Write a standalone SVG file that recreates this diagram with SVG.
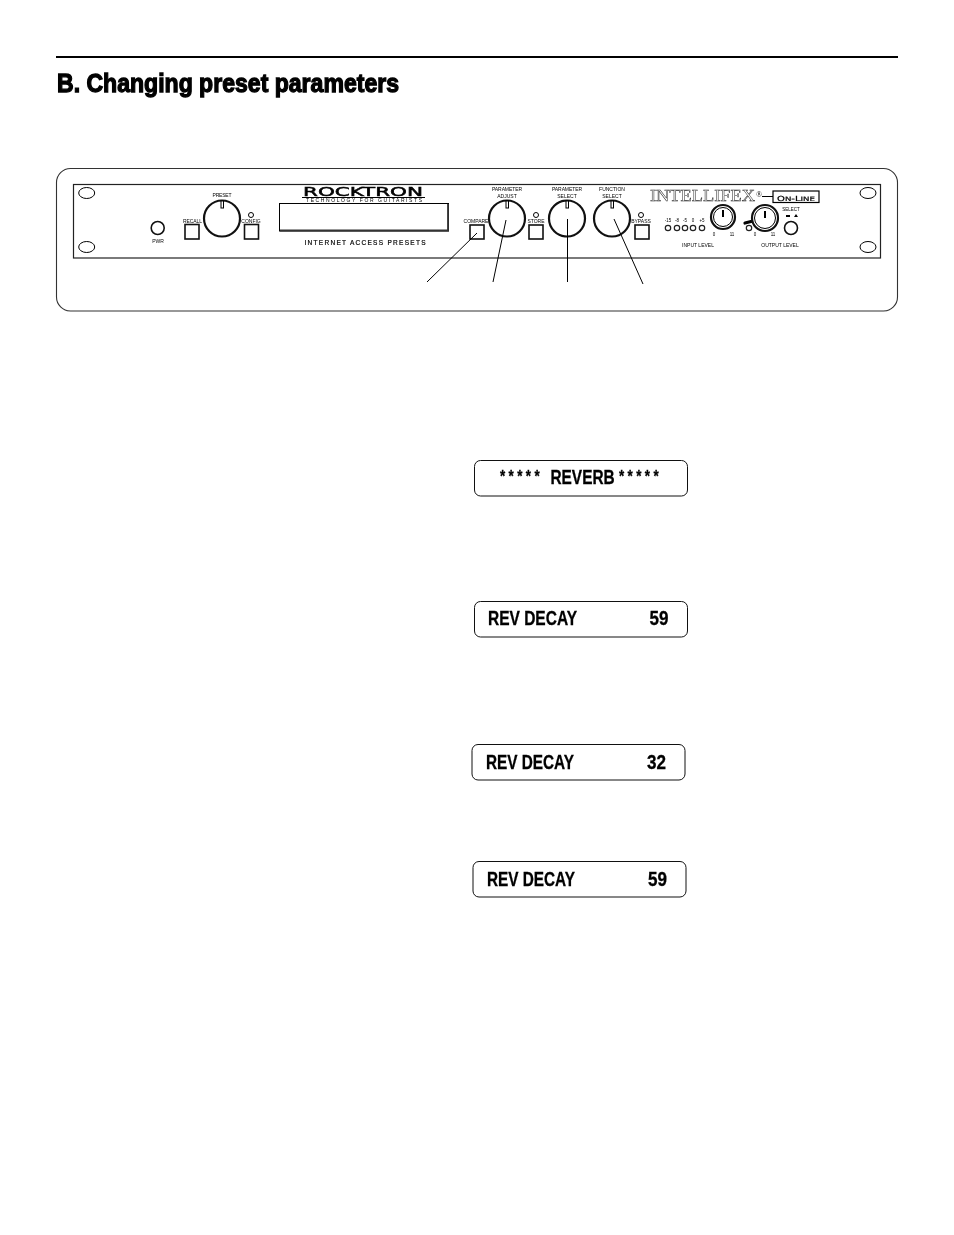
<svg xmlns="http://www.w3.org/2000/svg" width="954" height="1235" viewBox="0 0 954 1235">
<style>
.ln{fill:none;stroke:#000;stroke-width:1}
.led{fill:#fff;stroke:#222;stroke-width:1.2}
.btn{fill:#fff;stroke:#111;stroke-width:1.6}
.knob{fill:#fff;stroke:#111;stroke-width:2.2}
.ptr{fill:#fff;stroke:#000;stroke-width:1}
.lab{font-family:"Liberation Sans",Arial,sans-serif;font-size:5px;fill:#000;text-anchor:middle}
.tiny{font-family:"Liberation Sans",Arial,sans-serif;font-size:4.500px;fill:#000;text-anchor:middle}
.disp{fill:#fff;stroke:#111;stroke-width:1}
.dt{font-family:"Liberation Sans",Arial,sans-serif;font-weight:700;font-size:19.500px;fill:#000;stroke:#000;stroke-width:.3}
.st{font-size:17px;letter-spacing:4.300px}
</style>
<rect width="954" height="1235" fill="#fff"/>
<g opacity=".999">
<g id="header">
<rect x="56" y="56" width="842" height="2" fill="#000"/>
<text x="57" y="92" font-family="'Liberation Sans',Arial,sans-serif" font-weight="700" font-size="26.500" stroke="#000" stroke-width="1.300" textLength="342" lengthAdjust="spacingAndGlyphs">B. Changing preset parameters</text>
</g>
<g id="panel-frame">
<rect x="56.500" y="168.500" width="841" height="142.500" rx="14" fill="none" stroke="#333" stroke-width="1.100"/>
<rect x="73.500" y="184.500" width="807" height="73.500" fill="none" stroke="#222" stroke-width="1.200"/>
<ellipse class="ln" cx="86.700" cy="193" rx="8" ry="5.500"/>
<ellipse class="ln" cx="86.700" cy="247" rx="8" ry="5.500"/>
<ellipse class="ln" cx="868" cy="193" rx="8" ry="5.500"/>
<ellipse class="ln" cx="868" cy="247" rx="8" ry="5.500"/>
</g>
<g id="pwr"><circle class="btn" cx="157.700" cy="228" r="6.500"/><text class="lab" x="158" y="243">PWR</text></g>
<g id="recall"><text class="lab" x="192.500" y="223" textLength="19">RECALL</text><rect class="btn" x="185" y="224.500" width="14" height="14.500"/></g>
<g id="preset"><text class="lab" x="222" y="197" textLength="19">PRESET</text><circle class="knob" cx="222" cy="218.500" r="18"/><rect class="ptr" x="221" y="201" width="2.500" height="7"/></g>
<g id="config"><circle class="ln" cx="251" cy="215" r="2.500"/><text class="lab" x="251" y="223">CONFIG</text><rect class="btn" x="244.500" y="224.500" width="14" height="14.500"/></g>
<g id="logo">
<text x="303" y="196" font-family="'DejaVu Sans',sans-serif" font-size="12.500" stroke="#000" stroke-width=".5" textLength="120" lengthAdjust="spacingAndGlyphs">ROCKTRON</text>
<rect x="302" y="197" width="123" height="1" fill="#000"/>
<text class="lab" x="364" y="202" textLength="116">TECHNOLOGY FOR GUITARISTS</text>
</g>
<g id="display"><rect x="279.500" y="203.500" width="169" height="27.500" fill="#fff" stroke="#000" stroke-width="1"/><path d="M448 204V230.500H280" fill="none" stroke="#333" stroke-width="1.800"/>
<text x="365" y="245" font-family="'Liberation Sans',Arial,sans-serif" font-size="6.500" text-anchor="middle" textLength="121" stroke="#000" stroke-width=".2">INTERNET ACCESS PRESETS</text></g>
<g id="compare"><text class="lab" x="476" y="223">COMPARE</text><rect class="btn" x="470" y="225" width="14" height="14"/></g>
<g id="adjust"><text class="lab" x="507" y="191" textLength="30">PARAMETER</text><text class="lab" x="507" y="198">ADJUST</text><circle class="knob" cx="507" cy="218.500" r="18"/><rect class="ptr" x="506" y="201" width="2.500" height="7"/></g>
<g id="store"><circle class="ln" cx="536" cy="215" r="2.500"/><text class="lab" x="536" y="223">STORE</text><rect class="btn" x="529" y="225" width="14" height="14"/></g>
<g id="param"><text class="lab" x="567" y="191" textLength="30">PARAMETER</text><text class="lab" x="567" y="198">SELECT</text><circle class="knob" cx="567" cy="218.500" r="18"/><rect class="ptr" x="566" y="201" width="2.500" height="7"/></g>
<g id="func"><text class="lab" x="612" y="191">FUNCTION</text><text class="lab" x="612" y="198">SELECT</text><circle class="knob" cx="612" cy="218.500" r="18"/><rect class="ptr" x="611" y="201" width="2.500" height="7"/></g>
<g id="bypass"><circle class="ln" cx="641" cy="215" r="2.500"/><text class="lab" x="641" y="223">BYPASS</text><rect class="btn" x="635" y="225" width="14" height="14"/></g>
<g id="brand">
<text x="650" y="201" font-family="'Liberation Serif',serif" font-size="16.500" textLength="105" lengthAdjust="spacingAndGlyphs" fill="#fff" stroke="#222" stroke-width=".45">INTELLIFEX</text>
<text x="756" y="197" font-family="'Liberation Serif',serif" font-size="8">®</text>
<path class="ln" d="M762 196.500H773"/>
<rect x="773" y="191" width="46" height="11.500" fill="#fff" stroke="#000" stroke-width="1.200"/>
<text x="796" y="200.500" font-family="'DejaVu Sans',sans-serif" font-size="7" text-anchor="middle" textLength="38" lengthAdjust="spacingAndGlyphs" stroke="#000" stroke-width=".2">O<tspan font-size="6">N</tspan>-L<tspan font-size="6">INE</tspan></text>
</g>
<g id="input">
<text class="tiny" x="668" y="222">-15</text><text class="tiny" x="677" y="222">-8</text><text class="tiny" x="685" y="222">-5</text><text class="tiny" x="693" y="222">0</text><text class="tiny" x="702" y="222">+5</text>
<circle class="led" cx="668" cy="228" r="2.700"/><circle class="led" cx="677" cy="228" r="2.700"/><circle class="led" cx="685" cy="228" r="2.700"/><circle class="led" cx="693" cy="228" r="2.700"/><circle class="led" cx="702" cy="228" r="2.700"/>
<circle class="knob" cx="723" cy="217" r="12"/><circle class="ln" cx="723" cy="217" r="9.500"/><rect x="722" y="210" width="2" height="7" fill="#000"/>
<text class="tiny" x="714" y="236">0</text><text class="tiny" x="732" y="236">11</text>
<text class="lab" x="698" y="247">INPUT LEVEL</text>
</g>
<g id="output">
<path d="M745 223L753 221" stroke="#000" stroke-width="3.200" stroke-linecap="round" fill="none"/><circle class="led" cx="749" cy="228" r="2.700"/>
<circle class="knob" cx="765" cy="218" r="13"/><circle class="ln" cx="765" cy="218" r="10.500"/><rect x="764" y="211" width="2" height="7" fill="#000"/>
<text class="tiny" x="755" y="236">0</text><text class="tiny" x="773" y="236">11</text>
<text class="lab" x="780" y="247">OUTPUT LEVEL</text>
<text class="tiny" x="791" y="211">SELECT</text>
<rect x="786" y="215" width="4" height="2" fill="#000"/><path d="M794 217L796 214L798 217Z" fill="#000"/>
<circle class="btn" cx="791" cy="228" r="6.500"/>
</g>
<g id="connectors" class="ln">
<path d="M427 282L477 233"/><path d="M493 282L506 220"/><path d="M567.500 282V219"/><path d="M643 284L614 219"/>
</g>
<g id="display-1"><rect class="disp" x="474.500" y="460.500" width="213" height="35.500" rx="6"/><text class="dt" transform="translate(500 484) scale(.79 1)"><tspan class="st" dy="-2">*****</tspan><tspan x="58.500" dy="2"> REVERB </tspan><tspan class="st" x="150.600" dy="-2">*****</tspan></text></g>
<g id="display-2"><rect class="disp" x="474.500" y="601.500" width="213" height="35.500" rx="6"/><text class="dt" x="488" y="625" textLength="89" lengthAdjust="spacingAndGlyphs">REV DECAY</text><text class="dt" x="649.500" y="625" textLength="19" lengthAdjust="spacingAndGlyphs">59</text></g>
<g id="display-3"><rect class="disp" x="472" y="744.500" width="213" height="35.500" rx="6"/><text class="dt" x="486" y="769" textLength="88" lengthAdjust="spacingAndGlyphs">REV DECAY</text><text class="dt" x="647" y="769" textLength="19" lengthAdjust="spacingAndGlyphs">32</text></g>
<g id="display-4"><rect class="disp" x="473" y="861.500" width="213" height="35.500" rx="6"/><text class="dt" x="487" y="886" textLength="88" lengthAdjust="spacingAndGlyphs">REV DECAY</text><text class="dt" x="648" y="886" textLength="19" lengthAdjust="spacingAndGlyphs">59</text></g>
</g>
</svg>
